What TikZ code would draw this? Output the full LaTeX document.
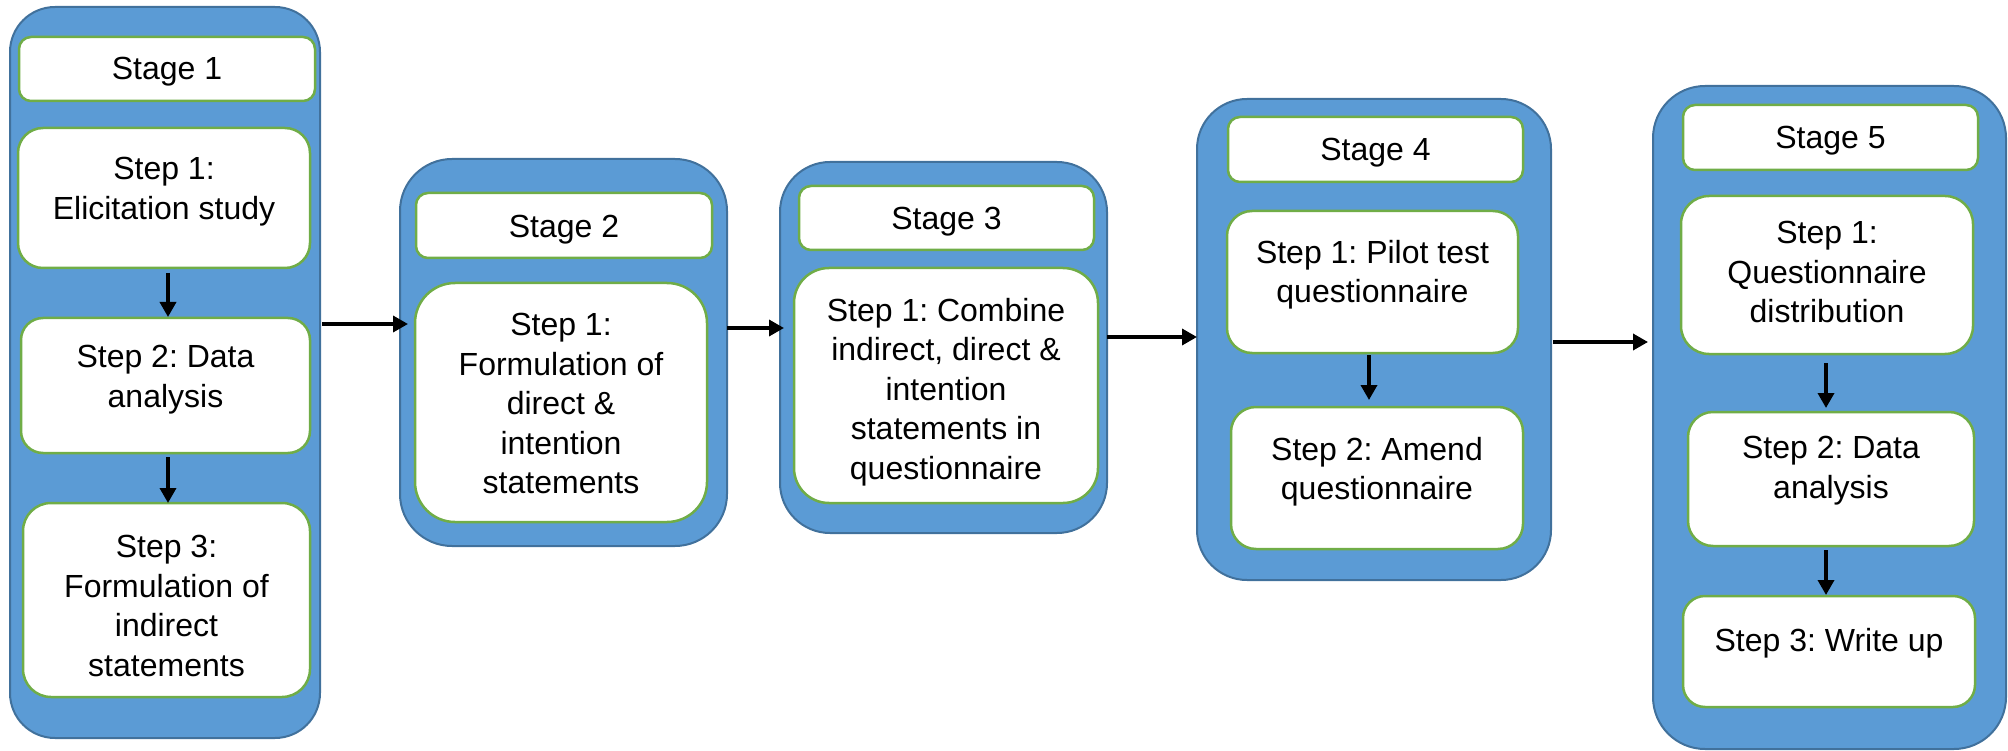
\documentclass[tikz,border=0pt]{standalone}
\usepackage{fontspec}
\setmainfont{Liberation Sans}
\usetikzlibrary{arrows.meta}
\frenchspacing

\definecolor{panelblue}{HTML}{5B9BD5}
\definecolor{paneledge}{HTML}{41719C}
\definecolor{stepgreen}{HTML}{70AD47}

% box from corner (x1,y1) to (x2,y2), y measured downwards
\newcommand\panel[6]{%
  \node[#1, minimum width={(#5)-(#3)}, minimum height={(#6)-(#4)}]
    (#2) at ({((#3)+(#5))/2},{((#4)+(#6))/2}) {};}

\tikzset{
  stagebox/.style={draw=paneledge, line width=2pt, fill=panelblue,
    rectangle, inner sep=0pt, outer sep=0pt, rounded corners=#1},
  stagebox/.default=50pt,
  stepbox/.style={draw=stepgreen, line width=2.5pt, fill=white,
    rectangle, inner sep=0pt, outer sep=0pt, rounded corners=#1},
  stepbox/.default=25pt,
  txt/.style={anchor=north, inner sep=0pt, align=center,
    font={\fontsize{32}{39.5}\selectfont}},
  arr/.style={line width=3.5pt, -{Triangle[length=15pt,width=16pt]}},
}

\begin{document}
\begin{tikzpicture}[x=1pt, y=-1pt]
\useasboundingbox (0,0) rectangle (2008,751);

% ---- Stage 1 ----
\panel{stagebox=45pt}{s1}{10}{7}{320}{738}
\panel{stepbox=12pt}{s1h}{19}{37}{315}{101}
\panel{stepbox=25pt}{s1a}{18}{128}{310}{268}
\panel{stepbox=22pt}{s1b}{21}{318}{310}{453}
\panel{stepbox=28pt}{s1c}{23}{503}{310}{697}
\node[txt] (s1h-t) at (s1h.center |- 0,57) {Stage 1};
\node[txt] (s1a-t) at (s1a.center |- 0,157) {Step 1:\\Elicitation study};
\node[txt] (s1b-t) at (s1b.center |- 0,345) {Step 2: Data\\analysis};
\node[txt] (s1c-t) at (s1c.center |- 0,535) {Step 3:\\Formulation of\\indirect\\statements};

% ---- Stage 2 ----
\panel{stagebox=52pt}{s2}{400}{159}{727}{546}
\panel{stepbox=12pt}{s2h}{416}{193}{712}{258}
\panel{stepbox=40pt}{s2a}{415}{283}{707}{522}
\node[txt] (s2h-t) at (s2h.center |- 0,215) {Stage 2};
\node[txt] (s2a-t) at (s2a.center |- 0,313) {Step 1:\\Formulation of\\direct \&\\intention\\statements};

% ---- Stage 3 ----
\panel{stagebox=50pt}{s3}{780}{162}{1107}{533}
\panel{stepbox=12pt}{s3h}{799}{186}{1094}{250}
\panel{stepbox=35pt}{s3a}{794}{268}{1098}{503}
\node[txt] (s3h-t) at (s3h.center |- 0,207) {Stage 3};
\node[txt] (s3a-t) at (s3a.center |- 0,298) {Step 1: Combine\\indirect, direct \&\\intention\\statements in\\questionnaire};

% ---- Stage 4 ----
\panel{stagebox=50pt}{s4}{1197}{99}{1551}{580}
\panel{stepbox=12pt}{s4h}{1228}{117}{1523}{182}
\panel{stepbox=25pt}{s4a}{1227}{211}{1518}{353}
\panel{stepbox=25pt}{s4b}{1231}{407}{1523}{549}
\node[txt] (s4h-t) at (s4h.center |- 0,138) {Stage 4};
\node[txt] (s4a-t) at (s4a.center |- 0,240) {Step 1: Pilot test\\questionnaire};
\node[txt] (s4b-t) at (s4b.center |- 0,437) {Step 2: Amend\\questionnaire};

% ---- Stage 5 ----
\panel{stagebox=52pt}{s5}{1653}{86}{2006}{749}
\panel{stepbox=12pt}{s5h}{1683}{105}{1978}{170}
\panel{stepbox=28pt}{s5a}{1681}{196}{1973}{354}
\panel{stepbox=25pt}{s5b}{1688}{412}{1974}{546}
\panel{stepbox=22pt}{s5c}{1683}{596}{1975}{707}
\node[txt] (s5h-t) at (s5h.center |- 0,126) {Stage 5};
\node[txt] (s5a-t) at (s5a.center |- 0,221) {Step 1:\\Questionnaire\\distribution};
\node[txt] (s5b-t) at (s5b.center |- 0,436) {Step 2: Data\\analysis};
\node[txt] (s5c-t) at (s5c.center |- 0,628) {Step 3: Write up};

% ---- connectors between stages ----
\coordinate (h12) at (0,324);
\coordinate (h23) at (0,328);
\coordinate (h34) at (0,337);
\coordinate (h45) at (0,342);
\draw[arr, shorten <=2pt, shorten >=-8pt] (s1.east |- h12) -- (s2.west |- h12);
\draw[arr, shorten >=-4pt] (s2.east |- h23) -- (s3.west |- h23);
\draw[arr] (s3.east |- h34) -- (s4.west |- h34);
\draw[arr, shorten <=2pt, shorten >=5pt] (s4.east |- h45) -- (s5.west |- h45);

% ---- connectors between steps ----
\coordinate (v1) at (168,0);
\coordinate (v4) at (1369,0);
\coordinate (v5) at (1826,0);
\draw[arr, shorten <=5pt, shorten >=1pt] (s1a.south -| v1) -- (s1b.north -| v1);
\draw[arr, shorten <=4pt] (s1b.south -| v1) -- (s1c.north -| v1);
\draw[arr, shorten <=2pt, shorten >=7pt] (s4a.south -| v4) -- (s4b.north -| v4);
\draw[arr, shorten <=9pt, shorten >=4pt] (s5a.south -| v5) -- (s5b.north -| v5);
\draw[arr, shorten <=4pt, shorten >=1pt] (s5b.south -| v5) -- (s5c.north -| v5);
\end{tikzpicture}
\end{document}
